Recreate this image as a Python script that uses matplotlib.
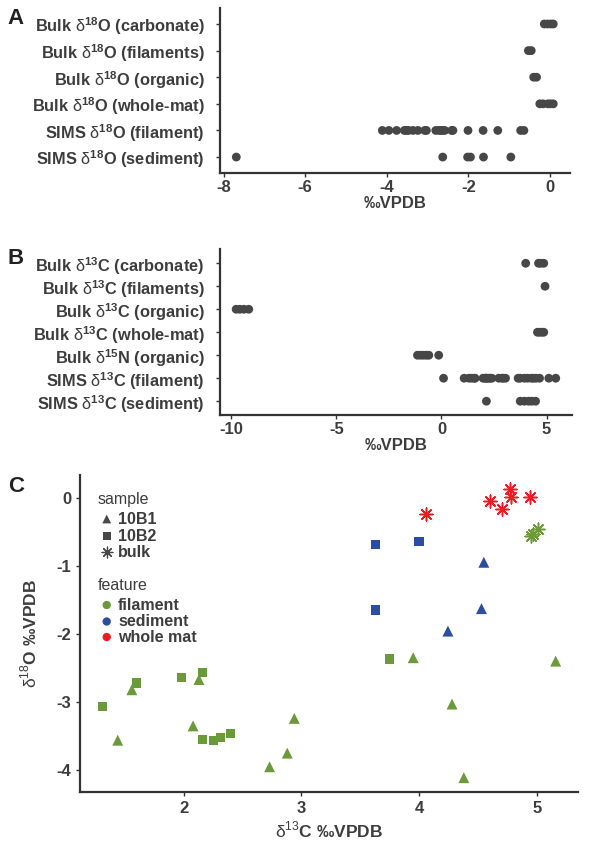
import matplotlib
matplotlib.use("Agg")
import matplotlib.pyplot as plt

plt.rcParams['font.family'] = ['Liberation Sans', 'DejaVu Sans']
plt.rcParams['mathtext.fontset'] = 'custom'
plt.rcParams['mathtext.rm'] = 'Liberation Sans'
plt.rcParams['mathtext.bf'] = 'Liberation Sans:bold'

TXT = '#3d3d3d'
DOT = '#474747'

D18 = '$\\mathrm{δ}^{\\mathbf{18}}$'
D13 = '$\\mathrm{δ}^{\\mathbf{13}}$'
D15 = '$\\mathrm{δ}^{\\mathbf{15}}$'

# ---- panel A: d18O ----
a_labels = ['Bulk ' + D18 + 'O (carbonate)', 'Bulk ' + D18 + 'O (filaments)',
            'Bulk ' + D18 + 'O (organic)', 'Bulk ' + D18 + 'O (whole-mat)',
            'SIMS ' + D18 + 'O (filament)', 'SIMS ' + D18 + 'O (sediment)']
a_carbonate = [-0.14, -0.06, 0.02, 0.08]
a_filaments = [-0.53, -0.46]
a_organic = [-0.40, -0.33]
a_wholemat = [-0.25, -0.17, -0.05, 0.01, 0.08]
a_sims_fil = [-4.11, -3.95, -3.76, -3.57, -3.52, -3.47, -3.36, -3.24, -3.07, -3.03,
              -2.80, -2.72, -2.67, -2.64, -2.58, -2.41, -2.38, -2.01, -1.64, -1.28,
              -0.72, -0.64]
a_sims_sed = [-7.69, -2.63, -2.02, -1.95, -1.63, -0.96]
a_values = [a_carbonate, a_filaments, a_organic, a_wholemat, a_sims_fil, a_sims_sed]

# ---- panel B: d13C / d15N ----
b_labels = ['Bulk ' + D13 + 'C (carbonate)', 'Bulk ' + D13 + 'C (filaments)',
            'Bulk ' + D13 + 'C (organic)', 'Bulk ' + D13 + 'C (whole-mat)',
            'Bulk ' + D15 + 'N (organic)', 'SIMS ' + D13 + 'C (filament)',
            'SIMS ' + D13 + 'C (sediment)']
b_carbonate = [4.01, 4.62, 4.72, 4.87]
b_filaments = [4.93]
b_organic = [-9.77, -9.6, -9.4, -9.17]
b_wholemat = [4.57, 4.67, 4.78, 4.87]
b_n_organic = [-1.14, -1.0, -0.86, -0.72, -0.60, -0.13]
b_sims_fil = [0.10, 1.08, 1.31, 1.44, 1.56, 1.60, 1.98, 2.08, 2.13, 2.16, 2.26, 2.31,
              2.40, 2.73, 2.88, 2.94, 3.05, 3.65, 3.75, 3.95, 4.10, 4.28, 4.38, 4.50,
              4.67, 5.11, 5.44]
b_sims_sed = [2.14, 3.75, 3.95, 4.15, 4.30, 4.48]
b_values = [b_carbonate, b_filaments, b_organic, b_wholemat, b_n_organic, b_sims_fil, b_sims_sed]

# ---- panel C: d13C vs d18O ----
c_feature = ['filament', 'sediment', 'whole mat']
c_colors = {'filament': '#6b9a3b', 'sediment': '#2c4ea0', 'whole mat': '#ec1c24'}
c_sample = ['10B1', '10B2', 'bulk']
c_markers = {'10B1': '^', '10B2': 's', 'bulk': (8, 2, 0)}

fil_b1_x = [1.56, 1.44, 2.13, 2.08, 2.73, 2.88, 2.94, 3.95, 4.28, 4.38, 5.16]
fil_b1_y = [-2.82, -3.56, -2.67, -3.35, -3.95, -3.75, -3.24, -2.35, -3.03, -4.11, -2.40]
fil_b2_x = [1.31, 1.60, 1.98, 2.16, 2.16, 2.255, 2.31, 2.40, 3.75]
fil_b2_y = [-3.07, -2.72, -2.645, -2.57, -3.55, -3.56, -3.52, -3.46, -2.37]
fil_bulk_x = [4.95, 4.97, 5.01]
fil_bulk_y = [-0.56, -0.53, -0.46]
sed_b1_x = [4.55, 4.53, 4.245]
sed_b1_y = [-0.95, -1.63, -1.96]
sed_b2_x = [3.63, 4.00, 3.63]
sed_b2_y = [-0.69, -0.64, -1.65]
mat_bulk_x = [4.06, 4.60, 4.70, 4.77, 4.78, 4.94]
mat_bulk_y = [-0.245, -0.05, -0.17, 0.12, 0.01, 0.01]

c_groups = [('filament', '10B1', fil_b1_x, fil_b1_y),
            ('filament', '10B2', fil_b2_x, fil_b2_y),
            ('filament', 'bulk', fil_bulk_x, fil_bulk_y),
            ('sediment', '10B1', sed_b1_x, sed_b1_y),
            ('sediment', '10B2', sed_b2_x, sed_b2_y),
            ('whole mat', 'bulk', mat_bulk_x, mat_bulk_y)]

marker_size = {'10B1': 62, '10B2': 44, 'bulk': 85}


def style_axes(ax):
    for s in ['top', 'right']:
        ax.spines[s].set_visible(False)
    for s in ['left', 'bottom']:
        ax.spines[s].set_linewidth(1.6)
        ax.spines[s].set_color('#333333')
    ax.tick_params(axis='both', length=3, width=1, color='#333333',
                   labelcolor=TXT, labelsize=12)
    for lab in ax.get_xticklabels() + ax.get_yticklabels():
        lab.set_fontweight('bold')


def strip_panel(ax, labels, values, xlim, xticks):
    n = len(labels)
    for i, vals in enumerate(values):
        ax.scatter(vals, [n - 1 - i] * len(vals), s=40, color=DOT, edgecolors='none', zorder=3)
    ax.set_yticks(range(n))
    ax.set_yticklabels(labels[::-1])
    ax.set_ylim(-0.6, n - 0.4)
    ax.set_xlim(*xlim)
    ax.set_xticks(xticks)
    ax.set_xticklabels([str(t) for t in xticks])
    ax.set_xlabel('‰VPDB', fontsize=12, fontweight='bold', color=TXT, labelpad=1)
    style_axes(ax)
    ax.tick_params(axis='y', labelsize=11.8, pad=8)
    ax.tick_params(axis='x', pad=2)


def add_key(ax, x, y, marker, color, label, size, bulk=False):
    if bulk:
        ax.scatter([x], [y], marker=marker, s=size, color=color, linewidths=0.9,
                   transform=ax.transAxes, clip_on=False)
    else:
        ax.scatter([x], [y], marker=marker, s=size, color=color, edgecolors='none',
                   transform=ax.transAxes, clip_on=False)
    ax.text(x + 0.0227, y, label, transform=ax.transAxes, fontsize=11.5,
            fontweight='bold', color=TXT, va='center', ha='left')


fig = plt.figure(figsize=(6.04, 8.44), dpi=100)

axA = fig.add_axes([0.3642, 0.795, 0.5795, 0.1955])
strip_panel(axA, a_labels, a_values, (-8.09, 0.49), [-8, -6, -4, -2, 0])

axB = fig.add_axes([0.3642, 0.5083, 0.5820, 0.1961])
strip_panel(axB, b_labels, b_values, (-10.54, 6.19), [-10, -5, 0, 5])

axC = fig.add_axes([0.1325, 0.0616, 0.8245, 0.3756])
for feat, samp, xs, ys in c_groups:
    m = c_markers[samp]
    if samp == 'bulk':
        axC.scatter(xs, ys, marker=m, s=marker_size[samp], color=c_colors[feat],
                    linewidths=1.1, zorder=3)
    else:
        axC.scatter(xs, ys, marker=m, s=marker_size[samp], color=c_colors[feat],
                    edgecolors='none', zorder=3)
axC.set_xlim(1.12, 5.35)
axC.set_ylim(-4.32, 0.33)
axC.set_xticks([2, 3, 4, 5])
axC.set_yticks([0, -1, -2, -3, -4])
axC.set_yticklabels(['0', '-1', '-2', '-3', '-4'])
axC.set_xlabel('$\\mathrm{δ}^{13}$C ‰VPDB', fontsize=12.5, fontweight='bold',
               color=TXT, labelpad=3)
axC.set_ylabel('$\\mathrm{δ}^{18}$O ‰VPDB', fontsize=12.5, fontweight='bold',
               color=TXT, labelpad=12)
style_axes(axC)


# legends (ggplot style, drawn as keys in axes coordinates)
def fy(py):
    return (792 - py) / 317.0


axC.text(0.036, fy(499), 'sample', transform=axC.transAxes, fontsize=11.5,
         color=TXT, va='center', ha='left')
for s, py in zip(c_sample, [519, 536, 552]):
    add_key(axC, 0.0536, fy(py), c_markers[s], DOT, s,
            {'10B1': 40, '10B2': 30, 'bulk': 60}[s], bulk=(s == 'bulk'))
axC.text(0.036, fy(585), 'feature', transform=axC.transAxes, fontsize=11.5,
         color=TXT, va='center', ha='left')
for f, py in zip(c_feature, [605, 621.5, 637]):
    add_key(axC, 0.0536, fy(py), 'o', c_colors[f], f, 36)

# panel letters
for letter, py in [('A', 8), ('B', 248), ('C', 476)]:
    fig.text(0.013, 1 - py / 844, letter, fontsize=16, fontweight='bold',
             color='#222222', va='top', ha='left')

fig.savefig('out.png', dpi=100)
